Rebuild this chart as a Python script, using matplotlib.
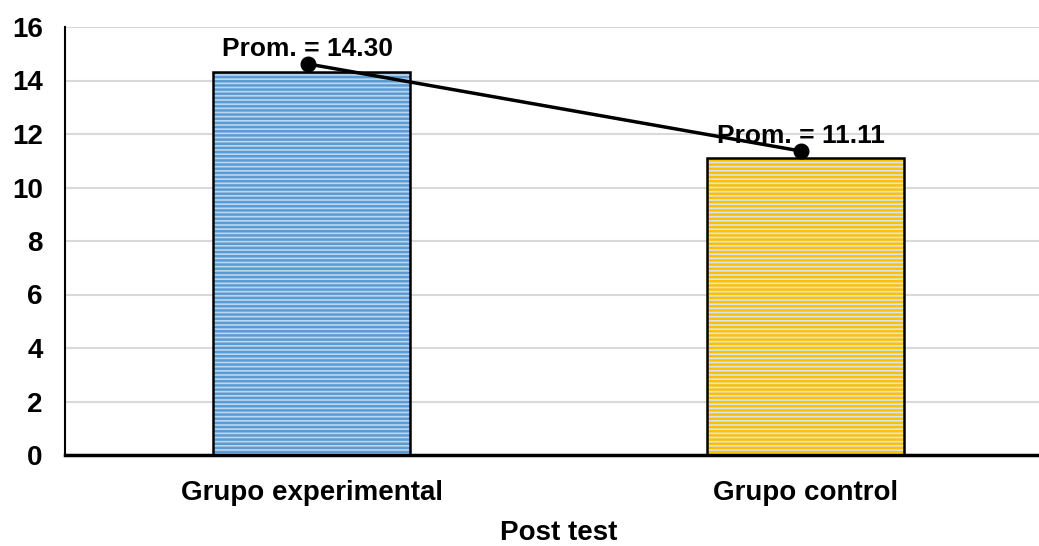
import numpy as np
import matplotlib.pyplot as plt

plt.rcParams['font.family'] = ['Liberation Sans', 'DejaVu Sans']
plt.rcParams['font.weight'] = 'bold'
plt.rcParams['hatch.linewidth'] = 1.8

# data
groups = ['Grupo experimental', 'Grupo control']
means = [14.30, 11.11]
line_values = [14.62, 11.36]  # mean markers drawn slightly above the bars
labels = ['Prom. = 14.30', 'Prom. = 11.11']
bar_face = ['#BDD7EE', '#D6E6F0']
bar_hatch = ['#5B9BD5', '#FFC000']

fig = plt.figure(figsize=(10.39, 5.46), dpi=100)
ax = fig.add_axes([65 / 1039, 1 - 455 / 546, 987 / 1039, 428 / 546])

x = np.arange(len(groups))
for i in range(len(groups)):
    ax.bar(x[i], means[i], width=0.4, color=bar_face[i], edgecolor=bar_hatch[i],
           hatch='----', linewidth=0, zorder=2)
    ax.bar(x[i], means[i], width=0.4, fill=False, edgecolor='black', linewidth=1.8, zorder=3)

ax.plot(x - 0.008, line_values, color='black', linewidth=2.5, marker='o', markersize=10.5, zorder=4)
for i in range(len(groups)):
    ax.annotate(labels[i], (x[i] - 0.008, line_values[i]), xytext=(0, 2), textcoords='offset points',
                ha='center', va='bottom', fontsize=19, fontweight='bold', zorder=5)

ax.set_xlim(-0.5, 1.5)
ax.set_ylim(0, 16)
ax.set_yticks(np.arange(0, 17, 2))
ax.set_xticks(x)
ax.set_xticklabels(groups)
ax.tick_params(axis='both', length=0, labelsize=20)
ax.tick_params(axis='y', pad=16)
ax.tick_params(axis='x', pad=18)
ax.grid(axis='y', color='#D9D9D9', linewidth=1.5, zorder=0)
ax.set_axisbelow(True)

for s in ['top', 'right']:
    ax.spines[s].set_visible(False)
ax.spines['left'].set_linewidth(1.5)
ax.spines['bottom'].set_linewidth(2.5)

ax.set_xlabel('Post test', fontsize=20, fontweight='bold')
ax.xaxis.label.set_va('baseline')
ax.xaxis.set_label_coords(0.5, (455 - 540) / 428)

fig.savefig('out.png', dpi=100)
